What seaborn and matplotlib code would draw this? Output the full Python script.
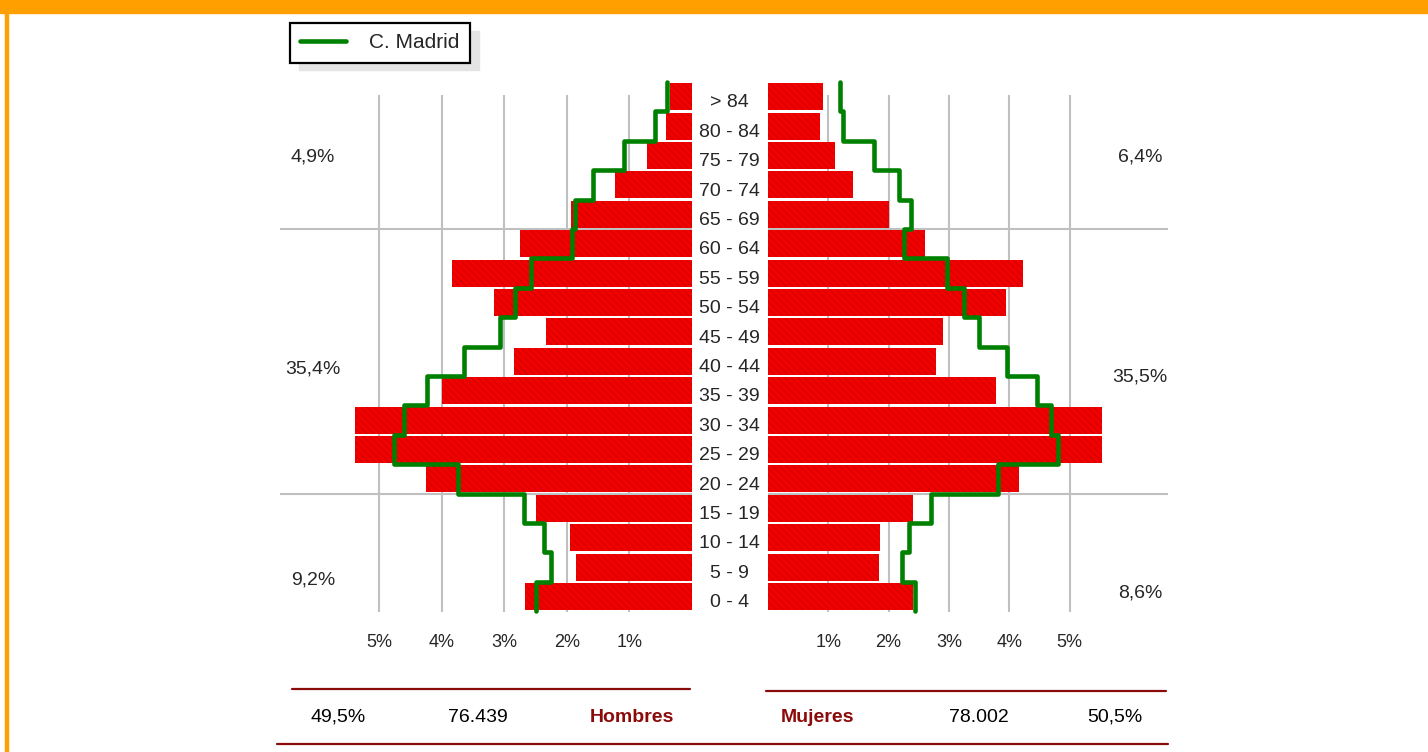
import numpy as np
import pandas as pd
import seaborn as sns
import matplotlib
import matplotlib.pyplot as plt
from matplotlib.patches import Rectangle
from matplotlib.lines import Line2D
from matplotlib.transforms import ScaledTranslation

ages = ['> 84', '80 - 84', '75 - 79', '70 - 74', '65 - 69', '60 - 64',
        '55 - 59', '50 - 54', '45 - 49', '40 - 44', '35 - 39', '30 - 34',
        '25 - 29', '20 - 24', '15 - 19', '10 - 14', '5 - 9', '0 - 4']
hombres = [0.35, 0.42, 0.72, 1.23, 1.94, 2.75, 3.83, 3.16, 2.34, 2.84,
           3.99, 5.39, 5.39, 4.25, 2.50, 1.95, 1.85, 2.67]
mujeres = [0.92, 0.87, 1.11, 1.41, 2.00, 2.60, 4.23, 3.95, 2.91, 2.79,
           3.78, 5.54, 5.54, 4.16, 2.40, 1.86, 1.84, 2.41]
madrid_h = [0.40, 0.59, 1.08, 1.58, 1.87, 1.91, 2.57, 2.82, 3.07, 3.65,
            4.24, 4.60, 4.76, 3.74, 2.69, 2.36, 2.26, 2.49]
madrid_m = [1.19, 1.25, 1.75, 2.17, 2.37, 2.25, 2.97, 3.25, 3.50, 3.97,
            4.46, 4.69, 4.81, 3.82, 2.70, 2.34, 2.23, 2.44]
pct_ticks = [1, 2, 3, 4, 5]
pct_labels = ['1%', '2%', '3%', '4%', '5%']
grupos_h = ['4,9%', '35,4%', '9,2%']
grupos_m = ['6,4%', '35,5%', '8,6%']
cortes = ['65 - 69', '20 - 24']   # last row of each age block
totales_h = ['49,5%', '76.439', 'Hombres']
totales_m = ['Mujeres', '78.002', '50,5%']

ROJO = '#F20000'
VERDE = '#008000'
GRANATE = '#8B0A0A'
NARANJA = '#FF9F00'
GRIS = '#C0C0C0'

sns.set_style('white')
plt.rcParams['font.family'] = ['Liberation Sans', 'DejaVu Sans']
plt.rcParams['hatch.color'] = '#C00000'
plt.rcParams['hatch.linewidth'] = 0.5

W, H = 1428, 752
fig = plt.figure(figsize=(W / 100, H / 100), dpi=100)


def fx(px):
    return px / W


def fy(py):
    return 1 - py / H


def escalon(vals):
    xs, ys = [], []
    for i, v in enumerate(vals):
        xs += [v, v]
        ys += [i - 0.5, i + 0.5]
    return xs, ys


def piramide(ax, barras, linea, xmax, invert):
    df = pd.DataFrame({'edad': ages, 'valor': barras})
    sns.barplot(data=df, x='valor', y='edad', order=ages, orient='h',
                color=ROJO, saturation=1, width=0.92, ax=ax, zorder=2)
    for p in ax.patches:
        p.set_hatch('\\\\\\\\\\')
        p.set_edgecolor('#C00000')
        p.set_linewidth(0)
        p.set_clip_on(False)
    xs, ys = escalon(linea)
    sns.lineplot(x=xs, y=ys, sort=False, estimator=None, color=VERDE,
                 linewidth=3.3, ax=ax, zorder=3, label='C. Madrid')
    ax.lines[-1].set_clip_on(False)
    ax.get_legend().remove()
    ax.set_xlim((xmax, 0) if invert else (0, xmax))
    ax.set_ylim(len(ages) - 0.47, -0.06)
    ax.set_xticks(pct_ticks, labels=pct_labels)
    ax.grid(axis='x', color=GRIS, linewidth=1.5, zorder=0)
    ax.grid(axis='y', visible=False)
    for c in cortes:
        ax.axhline(ages.index(c) + 0.5, color=GRIS, linewidth=1.5, zorder=0)
    ax.set_xlabel('')
    ax.set_ylabel('')
    for s in ax.spines.values():
        s.set_visible(False)
    ax.tick_params(axis='x', length=0, pad=16, labelsize=13)
    ax.set_axisbelow(True)


ax_h = fig.add_axes([fx(280), fy(612), fx(692 - 280), fy(95) - fy(612)])
ax_m = fig.add_axes([fx(768), fy(612), fx(1168 - 768), fy(95) - fy(612)])
piramide(ax_h, hombres, madrid_h, 412 / 62.6, True)
piramide(ax_m, mujeres, madrid_m, 400 / 60.3, False)

ax_h.tick_params(axis='y', left=False, labelleft=False)
ax_m.tick_params(axis='y', length=0, pad=27.5, labelsize=14)
off = ScaledTranslation(0, -3 / 72, fig.dpi_scale_trans)
for t in ax_m.get_yticklabels():
    t.set_ha('center')
    t.set_transform(t.get_transform() + off)

# porcentajes por bloque de edad
for txt, y in zip(grupos_h, [157, 369, 580]):
    fig.text(fx(313), fy(y), txt, ha='center', va='center', fontsize=14)
for txt, y in zip(grupos_m, [157, 377, 593]):
    fig.text(fx(1140), fy(y), txt, ha='center', va='center', fontsize=14)

# pie con totales
fig.add_artist(Line2D([fx(292), fx(690)], [fy(689), fy(689)],
                      color=GRANATE, linewidth=1.6))
fig.add_artist(Line2D([fx(766), fx(1166)], [fy(691), fy(691)],
                      color=GRANATE, linewidth=1.6))
fig.add_artist(Line2D([fx(277), fx(1168)], [fy(744), fy(744)],
                      color=GRANATE, linewidth=1.6))
for txt, x in zip(totales_h, [338, 478, 632]):
    bold = txt == 'Hombres'
    fig.text(fx(x), fy(717), txt, ha='center', va='center', fontsize=14,
             color=GRANATE if bold else 'black',
             fontweight='bold' if bold else 'normal')
for txt, x in zip(totales_m, [818, 979, 1115]):
    bold = txt == 'Mujeres'
    fig.text(fx(x), fy(717), txt, ha='center', va='center', fontsize=14,
             color=GRANATE if bold else 'black',
             fontweight='bold' if bold else 'normal')

# leyenda con sombra
fig.add_artist(Rectangle((fx(299), fy(70)), fx(180), fy(31) - fy(70),
                         transform=fig.transFigure, color='#E4E4E4',
                         zorder=1))
handles, labels = ax_h.get_legend_handles_labels()
leg = fig.legend(handles, labels, loc='upper left',
                 bbox_to_anchor=(fx(290), fy(23)), borderaxespad=0,
                 fontsize=15, handlelength=2.2, handletextpad=1.1,
                 borderpad=0.5, fancybox=False, framealpha=1,
                 edgecolor='black')
leg.get_frame().set_linewidth(1.6)
leg.set_zorder(5)

# marco naranja
fig.add_artist(Rectangle((0, fy(12.5)), 1, fy(0) - fy(12.5),
                         transform=fig.transFigure, color=NARANJA, zorder=0))
fig.add_artist(Rectangle((fx(5), 0), fx(2.5), 1,
                         transform=fig.transFigure, color=NARANJA, zorder=0))

fig.savefig('out.png', dpi=100)
